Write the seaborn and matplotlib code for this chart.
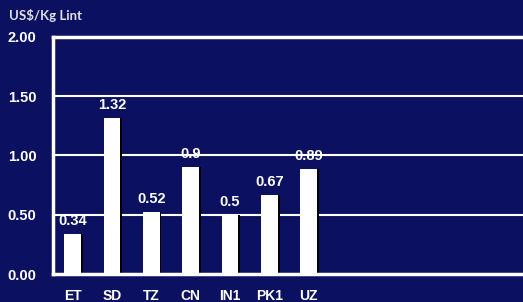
import matplotlib
matplotlib.use("Agg")
import matplotlib.pyplot as plt
import matplotlib.patheffects as pe
import seaborn as sns
import pandas as pd

# data
countries = ["ET", "SD", "TZ", "CN", "IN1", "PK1", "UZ"]
costs = [0.34, 1.32, 0.52, 0.9, 0.5, 0.67, 0.89]
cost_labels = ["0.34", "1.32", "0.52", "0.9", "0.5", "0.67", "0.89"]
y_ticks = [0.0, 0.5, 1.0, 1.5, 2.0]
y_ticklabels = ["0.00", "0.50", "1.00", "1.50", "2.00"]

navy = "#0B1160"
df = pd.DataFrame({"country": countries, "cost": costs})

sns.set_style("white")
plt.rcParams["font.family"] = ["Liberation Sans", "DejaVu Sans"]

fig = plt.figure(figsize=(5.23, 3.02), dpi=100, facecolor=navy)
ax = fig.add_axes([0.1013, 0.0927, 0.899, 0.785])
ax.set_facecolor(navy)

# grid lines behind bars
for y in y_ticks[1:-1]:
    ax.axhline(y, color="white", lw=1.5, zorder=0)

sns.barplot(data=df, x="country", y="cost", order=countries, color="white",
            saturation=1, width=0.43, ax=ax, zorder=2, edgecolor="white", linewidth=0)
for p in ax.patches:
    p.set_path_effects([pe.SimplePatchShadow(offset=(1.2, 0), shadow_rgbFace="black", alpha=1),
                        pe.Normal()])

for i, (v, lab) in enumerate(zip(costs, cost_labels)):
    ax.text(i, v + 0.05, lab, ha="center", va="bottom", color="white",
            fontsize=10.5, fontweight="bold", zorder=3)

ax.set_xlim(-0.5, 11.45)
ax.set_ylim(0, 2.0)
ax.set_yticks(y_ticks)
ax.set_yticklabels(y_ticklabels, fontsize=10.5, fontweight="bold", color="white")
ax.set_xticks(range(len(countries)))
ax.set_xticklabels(countries, fontsize=10, fontweight="bold", color="white")
ax.tick_params(axis="y", length=0, pad=12)
ax.tick_params(axis="x", length=0, pad=11)
ax.set_xlabel("")
ax.set_ylabel("")

for side in ["left", "top", "bottom"]:
    ax.spines[side].set_color("white")
    ax.spines[side].set_linewidth(2.5)
    ax.spines[side].set_zorder(4)
ax.spines["right"].set_visible(False)

fig.text(9 / 523, 1 - 15 / 302, "US$/Kg Lint", color="#E0E0E0", fontsize=9.5,
         fontweight="bold", va="center", ha="left", family=["Lato", "DejaVu Sans"])

fig.savefig("out.png", dpi=100, facecolor=navy)
